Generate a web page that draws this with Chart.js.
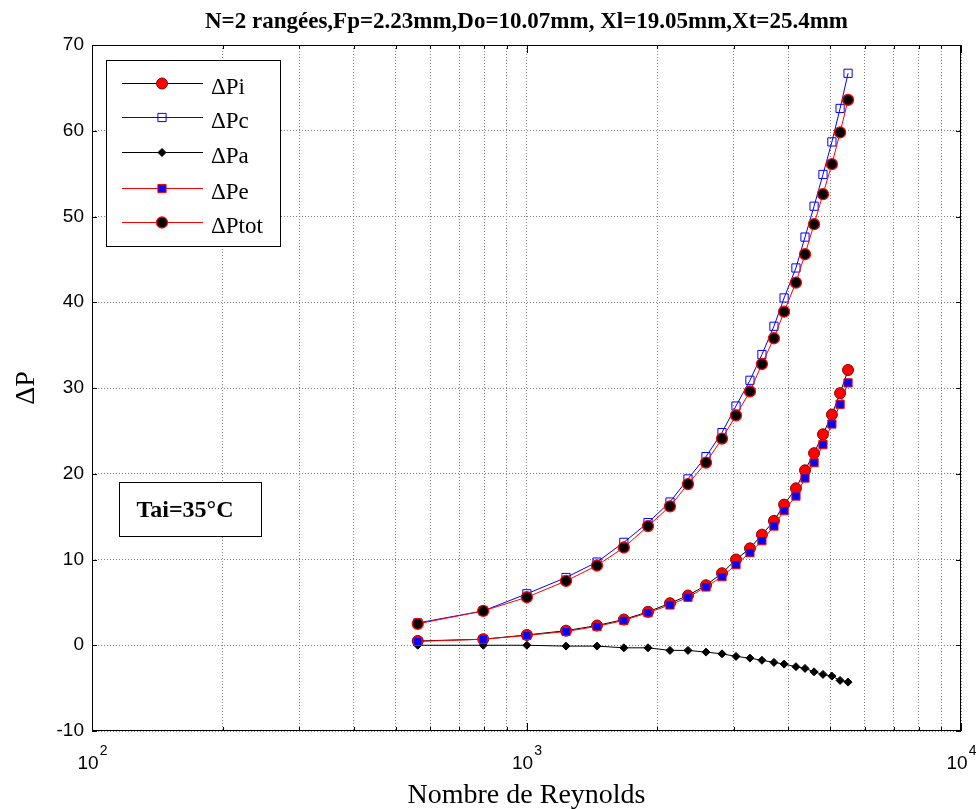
<!DOCTYPE html>
<html>
<head>
<meta charset="utf-8">
<script src="https://cdn.jsdelivr.net/npm/chart.js@4/dist/chart.umd.min.js"></script>
<style>
  html, body { margin: 0; padding: 0; background: #ffffff; }
  #wrap { width: 976px; height: 809px; }
</style>
</head>
<body>
<div id="wrap"><canvas id="c" width="976" height="809"></canvas></div>
<script>
// Reynolds numbers (x) and pressure drops (y) for each contribution
const reynolds = [562, 795, 1002, 1233, 1453, 1675, 1904, 2139, 2353, 2589, 2818, 3035,
                  3268, 3482, 3711, 3916, 4170, 4375, 4590, 4812, 5045, 5269, 5496];
const dPi   = [0.5, 0.7, 1.2, 1.7, 2.3, 3.0, 3.9, 4.9, 5.8, 7.0, 8.4, 10.0,
               11.3, 12.9, 14.5, 16.4, 18.3, 20.4, 22.4, 24.6, 26.9, 29.4, 32.1];
const dPc   = [2.6, 4.0, 6.0, 7.9, 9.7, 12.0, 14.3, 16.7, 19.4, 22.0, 24.8, 27.9,
               30.9, 33.9, 37.2, 40.5, 44.0, 47.6, 51.2, 54.9, 58.7, 62.6, 66.7];
const dPa   = [0.0, 0.0, 0.0, -0.1, -0.1, -0.3, -0.3, -0.6, -0.6, -0.8, -1.0, -1.3,
               -1.5, -1.75, -2.0, -2.2, -2.5, -2.7, -3.1, -3.4, -3.6, -4.1, -4.3];
const dPe   = [0.45, 0.7, 1.15, 1.6, 2.2, 2.9, 3.8, 4.7, 5.6, 6.8, 8.0, 9.4,
               10.8, 12.2, 13.9, 15.7, 17.4, 19.5, 21.3, 23.4, 25.8, 28.1, 30.6];
const dPtot = [2.5, 4.0, 5.6, 7.5, 9.3, 11.4, 13.9, 16.2, 18.8, 21.3, 24.1, 26.8,
               29.6, 32.8, 35.8, 38.9, 42.3, 45.6, 49.1, 52.6, 56.1, 59.8, 63.6];

const seriesNames = ['\u0394Pi', '\u0394Pc', '\u0394Pa', '\u0394Pe', '\u0394Ptot'];
const yTickValues = [-10, 0, 10, 20, 30, 40, 50, 60, 70];
const xDecadeExponents = [2, 3, 4];
const chartTitle = 'N=2 rang\u00e9es,Fp=2.23mm,Do=10.07mm, Xl=19.05mm,Xt=25.4mm';
const xTitle = 'Nombre de Reynolds';
const yTitle = '\u0394P';
const noteText = 'Tai=35\u00b0C';

// grid positions on the log axis: 1..9 x 10^k
const xGridValues = [];
for (let e = 2; e < 4; e++) {
  for (let m = 1; m < 10; m++) xGridValues.push(m * Math.pow(10, e));
}
xGridValues.push(10000);

const pts = arr => reynolds.map((r, i) => ({ x: r, y: arr[i] }));

const datasets = [
  { label: seriesNames[0], data: pts(dPi), borderColor: '#000000', borderWidth: 1,
    pointStyle: 'circle', pointRadius: 5.5, pointBackgroundColor: '#ff0000',
    pointBorderColor: '#8a0000', pointBorderWidth: 1, order: 5 },
  { label: seriesNames[1], data: pts(dPc), borderColor: '#0000ff', borderWidth: 1,
    pointStyle: 'rect', pointRadius: 5.8, pointBackgroundColor: 'rgba(0,0,0,0)',
    pointBorderColor: '#0000ff', pointBorderWidth: 1, order: 4 },
  { label: seriesNames[2], data: pts(dPa), borderColor: '#000000', borderWidth: 1,
    pointStyle: 'rectRot', pointRadius: 4, pointBackgroundColor: '#000000',
    pointBorderColor: '#000000', pointBorderWidth: 1, order: 3 },
  { label: seriesNames[3], data: pts(dPe), borderColor: '#ff0000', borderWidth: 1,
    pointStyle: 'rect', pointRadius: 5.8, pointBackgroundColor: '#0000ff',
    pointBorderColor: '#ff0000', pointBorderWidth: 1, order: 2 },
  { label: seriesNames[4], data: pts(dPtot), borderColor: '#ff0000', borderWidth: 1,
    pointStyle: 'circle', pointRadius: 5.5, pointBackgroundColor: '#000000',
    pointBorderColor: '#ff0000', pointBorderWidth: 1.3, order: 1 }
];

function drawMarker(ctx, style, x, y, r, fill, stroke, lw) {
  ctx.beginPath();
  if (style === 'circle') {
    ctx.arc(x, y, r, 0, Math.PI * 2);
  } else if (style === 'rect') {
    const s = r * Math.SQRT1_2;
    ctx.rect(x - s, y - s, 2 * s, 2 * s);
  } else if (style === 'rectRot') {
    ctx.moveTo(x - r, y); ctx.lineTo(x, y - r); ctx.lineTo(x + r, y); ctx.lineTo(x, y + r);
    ctx.closePath();
  }
  ctx.fillStyle = fill; ctx.fill();
  ctx.lineWidth = lw; ctx.strokeStyle = stroke; ctx.stroke();
}

const SERIF = '"Liberation Serif", "Times New Roman", serif';
const SANS = '"Liberation Sans", Arial, sans-serif';

// axes box, inward ticks, tick labels, titles, legend and annotation
const decorPlugin = {
  id: 'decor',
  afterDraw(chart) {
    const ctx = chart.ctx;
    const { left, right, top, bottom } = chart.chartArea;
    const xs = chart.scales.x, ys = chart.scales.y;
    ctx.save();

    // box
    ctx.strokeStyle = '#000'; ctx.lineWidth = 1;
    ctx.strokeRect(Math.round(left) + 0.5, Math.round(top) + 0.5,
                   Math.round(right - left) - 1, Math.round(bottom - top) - 1);

    // y ticks
    ctx.beginPath();
    yTickValues.forEach(v => {
      const py = Math.round(ys.getPixelForValue(v)) + 0.5;
      ctx.moveTo(left, py); ctx.lineTo(left + 5, py);
      ctx.moveTo(right, py); ctx.lineTo(right - 5, py);
    });
    // x ticks
    xGridValues.forEach(v => {
      const px = Math.round(xs.getPixelForValue(v)) + 0.5;
      const major = Math.abs(Math.log10(v) - Math.round(Math.log10(v))) < 1e-9;
      const len = major ? 8 : 4;
      ctx.moveTo(px, bottom); ctx.lineTo(px, bottom - len);
      ctx.moveTo(px, top); ctx.lineTo(px, top + len);
    });
    ctx.stroke();

    // x tick labels 10^k
    ctx.fillStyle = '#000';
    ctx.textBaseline = 'alphabetic';
    xDecadeExponents.forEach(e => {
      const px = xs.getPixelForValue(Math.pow(10, e));
      ctx.font = '19px ' + SANS;
      const wb = ctx.measureText('10').width;
      ctx.font = '14px ' + SANS;
      const we = ctx.measureText(String(e)).width;
      const x0 = px - (wb + we) / 2;
      ctx.font = '19px ' + SANS;
      ctx.textAlign = 'left';
      ctx.fillText('10', x0, 769);
      ctx.font = '14px ' + SANS;
      ctx.fillText(String(e), x0 + wb + 1, 755);
    });

    // title
    ctx.textAlign = 'center';
    ctx.font = 'bold 23px ' + SERIF;
    ctx.fillText(chartTitle, (left + right) / 2, 28);

    // x axis title
    ctx.font = '28px ' + SERIF;
    ctx.fillText(xTitle, (left + right) / 2, 803);

    // y axis title
    ctx.save();
    ctx.translate(34, (top + bottom) / 2);
    ctx.rotate(-Math.PI / 2);
    ctx.font = '28px ' + SERIF;
    ctx.fillText(yTitle, 0, 0);
    ctx.restore();

    // legend
    const lx = 106, ly = 60, lw = 174, lh = 186;
    ctx.fillStyle = '#fff';
    ctx.fillRect(lx, ly, lw, lh);
    ctx.strokeStyle = '#000'; ctx.lineWidth = 1;
    ctx.strokeRect(lx + 0.5, ly + 0.5, lw, lh);
    const rowY = [83, 117, 152, 188, 222];
    chart.data.datasets.forEach((ds, i) => {
      const y = rowY[i] + 0.5;
      ctx.beginPath();
      ctx.strokeStyle = ds.borderColor; ctx.lineWidth = ds.borderWidth;
      ctx.moveTo(122, y); ctx.lineTo(203, y); ctx.stroke();
      drawMarker(ctx, ds.pointStyle, 162, y, ds.pointRadius,
                 ds.pointBackgroundColor, ds.pointBorderColor, ds.pointBorderWidth);
      ctx.fillStyle = '#000';
      ctx.textAlign = 'left'; ctx.textBaseline = 'middle';
      ctx.font = '23px ' + SERIF;
      ctx.fillText(ds.label, 211, rowY[i] + 5);
    });

    // annotation box
    ctx.fillStyle = '#fff';
    ctx.fillRect(119, 482, 142, 54);
    ctx.strokeStyle = '#000'; ctx.lineWidth = 1;
    ctx.strokeRect(119.5, 482.5, 142, 54);
    ctx.fillStyle = '#000';
    ctx.textAlign = 'center'; ctx.textBaseline = 'middle';
    ctx.font = 'bold 24px ' + SERIF;
    ctx.fillText(noteText, 185, 511);

    ctx.restore();
  }
};

new Chart(document.getElementById('c'), {
  type: 'line',
  data: { datasets },
  options: {
    responsive: false,
    animation: false,
    devicePixelRatio: 1,
    layout: { padding: { left: 0, right: 15, top: 45, bottom: 0 } },
    plugins: { legend: { display: false }, title: { display: false }, tooltip: { enabled: false } },
    elements: { line: { tension: 0, fill: false } },
    scales: {
      x: {
        type: 'logarithmic', min: 100, max: 10000,
        afterBuildTicks: s => { s.ticks = xGridValues.map(v => ({ value: v })); },
        afterFit: s => { s.height = 78; },
        ticks: { display: false, autoSkip: false },
        grid: { color: '#808080', lineWidth: 1, drawTicks: false },
        border: { display: false, dash: [1, 2] }
      },
      y: {
        type: 'linear', min: -10, max: 70,
        afterBuildTicks: s => { s.ticks = yTickValues.map(v => ({ value: v })); },
        afterFit: s => { s.width = 92; },
        ticks: { color: '#000', padding: 8, autoSkip: false,
                 font: { family: SANS, size: 19 } },
        grid: { color: '#808080', lineWidth: 1, drawTicks: false },
        border: { display: false, dash: [1, 2] }
      }
    }
  },
  plugins: [decorPlugin]
});
</script>
</body>
</html>
